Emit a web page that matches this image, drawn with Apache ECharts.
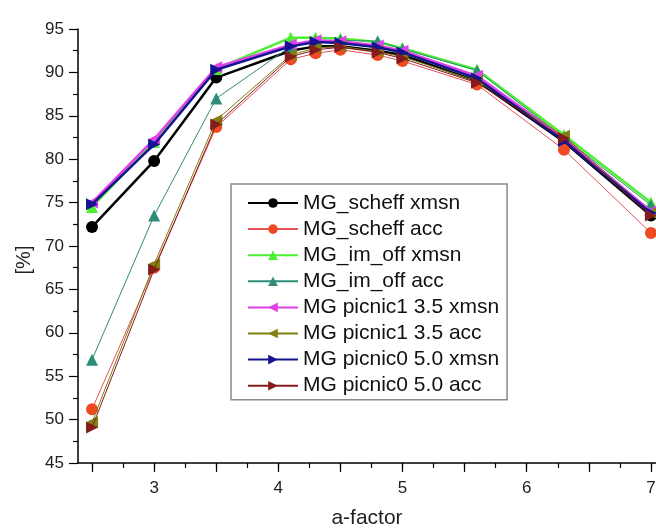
<!DOCTYPE html>
<html><head><meta charset="utf-8">
<script src="https://cdn.jsdelivr.net/npm/echarts@6/dist/echarts.min.js"></script>
<style>html,body{margin:0;padding:0;background:#fff}#c{width:656px;height:528px}</style>
</head><body><div id="c"></div>
<script>
const aFactor = [2.5, 3, 3.5, 4.1, 4.3, 4.5, 4.8, 5.0, 5.6, 6.3, 7.0];
const names = ["MG_scheff xmsn","MG_scheff acc","MG_im_off xmsn","MG_im_off acc","MG picnic1 3.5 xmsn","MG picnic1 3.5 acc","MG picnic0 5.0 xmsn","MG picnic0 5.0 acc"];
const scheffXmsn = [72.2, 79.8, 89.4, 92.5, 93.0, 93.0, 92.5, 92.0, 89.0, 82.0, 73.5];
const scheffAcc  = [51.2, 67.5, 83.7, 91.5, 92.2, 92.6, 92.0, 91.3, 88.6, 81.1, 71.5];
const imoffXmsn  = [74.5, 82.0, 90.4, 94.0, 94.0, 93.9, 93.5, 92.8, 90.3, 82.8, 75.0];
const imoffAcc   = [56.9, 73.5, 87.0, 93.0, 93.6, 93.7, 93.6, 92.7, 90.2, 82.5, 74.7];
const pic1Xmsn   = [75.0, 82.3, 90.6, 93.2, 93.7, 93.6, 93.1, 92.5, 89.6, 82.4, 74.0];
const pic1Acc    = [49.7, 67.9, 84.5, 92.0, 92.8, 93.0, 92.4, 91.8, 89.0, 82.7, 73.8];
const pic0Xmsn   = [74.8, 81.7, 90.3, 93.0, 93.5, 93.4, 92.9, 92.3, 89.3, 82.1, 73.8];
const pic0Acc    = [49.1, 67.3, 84.0, 91.8, 92.6, 92.9, 92.3, 91.6, 88.8, 82.4, 73.5];
const xLabels = [3, 4, 5, 6, 7];
const xHalfTicks = [2.5, 3, 3.5, 4, 4.5, 5, 5.5, 6, 6.5, 7];
const xQuarterTicks = [2.5, 2.75, 3, 3.25, 3.5, 3.75, 4, 4.25, 4.5, 4.75, 5, 5.25, 5.5, 5.75, 6, 6.25, 6.5, 6.75, 7];

const values = [scheffXmsn, scheffAcc, imoffXmsn, imoffAcc, pic1Xmsn, pic1Acc, pic0Xmsn, pic0Acc];
const styles = [
  {line:'#000000', mark:'#000000', w:2.5, sym:'circle', rot:0, size:12},
  {line:'#e8505a', mark:'#f04a22', w:1, sym:'circle', rot:0, size:12},
  {line:'#4cf030', mark:'#4cf030', w:2.5, sym:'triangle', rot:0, size:12},
  {line:'#2e8c78', mark:'#2e8c78', w:1, sym:'triangle', rot:0, size:12},
  {line:'#e040e8', mark:'#e040e8', w:2.5, sym:'triangle', rot:90, size:12},
  {line:'#808010', mark:'#808010', w:1, sym:'triangle', rot:90, size:12},
  {line:'#141490', mark:'#141490', w:2.5, sym:'triangle', rot:-90, size:12},
  {line:'#841c1c', mark:'#841c1c', w:1, sym:'triangle', rot:-90, size:12}
];
const series = names.map((n, i) => ({
  name: n, type: 'line',
  data: aFactor.map((x, j) => [x, values[i][j]]),
  symbol: styles[i].sym, symbolRotate: styles[i].rot, symbolSize: styles[i].size,
  lineStyle: {color: styles[i].line, width: styles[i].w},
  itemStyle: {color: styles[i].mark},
  z: 3 + i
}));
const font = '"Liberation Sans", Arial, sans-serif';
const chart = echarts.init(document.getElementById('c'), null, {renderer: 'canvas'});
chart.setOption({
  animation: false,
  backgroundColor: '#ffffff',
  grid: {left: 78, top: 29, right: 0, bottom: 65, containLabel: false, outerBoundsMode: 'none'},
  legend: {
    orient: 'vertical', left: 231, top: 184,
    itemWidth: 50, itemHeight: 12, itemGap: 2.1,
    padding: [7, 8, 2, 16],
    borderColor: '#8a8a8a', borderWidth: 1.5, backgroundColor: '#ffffff',
    textStyle: {fontFamily: font, fontSize: 21, color: '#111', lineHeight: 24},
    data: names
  },
  graphic: [{
    type: 'text', x: 24, y: 260, rotation: Math.PI / 2,
    style: {text: '[%]', fontFamily: font, fontSize: 20, fill: '#222', align: 'center', verticalAlign: 'middle'}
  }],
  xAxis: [{
    type: 'value', min: 2.387, max: 7.041,
    name: 'a-factor', nameLocation: 'middle', nameGap: 45,
    nameTextStyle: {fontFamily: font, fontSize: 21, color: '#222'},
    axisLine: {show: true, onZero: false, lineStyle: {color: '#000', width: 1.5}},
    axisTick: {show: true, customValues: xQuarterTicks, length: 5, lineStyle: {color: '#000', width: 1.2}},
    axisLabel: {customValues: xLabels, fontFamily: font, fontSize: 17, color: '#222', margin: 17},
    splitLine: {show: false}
  }, {
    type: 'value', min: 2.387, max: 7.041, position: 'bottom',
    axisLine: {show: false},
    axisTick: {show: true, customValues: xHalfTicks, length: 9, lineStyle: {color: '#000', width: 1.2}},
    axisLabel: {show: false},
    splitLine: {show: false}
  }],
  yAxis: {
    type: 'value', min: 45, max: 95, interval: 5,
    axisLine: {show: true, lineStyle: {color: '#000', width: 1.5}},
    axisTick: {show: true, length: 9, lineStyle: {color: '#000', width: 1.2}},
    minorTick: {show: true, splitNumber: 2, length: 5, lineStyle: {color: '#000', width: 1.2}},
    axisLabel: {fontFamily: font, fontSize: 17, color: '#222', margin: 14},
    splitLine: {show: false}
  },
  series: series
});
</script></body></html>
